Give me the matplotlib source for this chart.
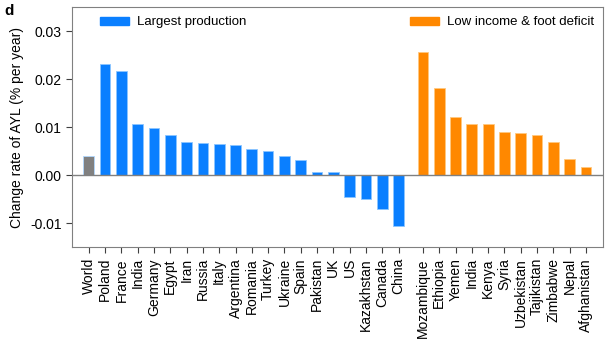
import numpy as np
import matplotlib.pyplot as plt
from matplotlib.patches import Patch

plt.rcParams['font.family'] = ['Liberation Sans', 'DejaVu Sans']

# data
world = 0.0040

prod_names = ['Poland', 'France', 'India', 'Germany', 'Egypt', 'Iran', 'Russia',
              'Italy', 'Argentina', 'Romania', 'Turkey', 'Ukraine', 'Spain',
              'Pakistan', 'UK', 'US', 'Kazakhstan', 'Canada', 'China']
prod_vals = [0.0231, 0.0217, 0.0106, 0.0098, 0.0084, 0.0069, 0.0067,
             0.0064, 0.0062, 0.0055, 0.0050, 0.0039, 0.0031,
             0.0006, 0.0006, -0.0045, -0.0049, -0.0071, -0.0106]

low_names = ['Mozambique', 'Ethiopia', 'Yemen', 'India', 'Kenya', 'Syria',
             'Uzbekistan', 'Tajikistan', 'Zimbabwe', 'Nepal', 'Afghanistan']
low_vals = [0.0256, 0.0181, 0.0120, 0.0106, 0.0106, 0.0089,
            0.0087, 0.0083, 0.0069, 0.0034, 0.0016]

c_grey = '#808080'
c_blue = '#0a7fff'
c_orange = '#ff8800'

x_prod = np.arange(1, len(prod_names) + 1)
x_low = np.arange(len(low_names)) + len(prod_names) + 1.5

fig = plt.figure(figsize=(6.09, 3.40), dpi=100)
ax = fig.add_axes([0.118, 0.2735, 0.872, 0.7055])

w = 0.66
ax.bar(0, world, width=w, color=c_grey, edgecolor='#b0d8ff', linewidth=0.6)
ax.bar(x_prod, prod_vals, width=w, color=c_blue, edgecolor='#8cc6ff', linewidth=0.6)
ax.bar(x_low, low_vals, width=w, color=c_orange, edgecolor='#ffc880', linewidth=0.6)

ax.axhline(0, color=c_grey, linewidth=1)

ax.set_xlim(-1.04, x_low[-1] + 1.04)
ax.set_ylim(-0.015, 0.035)
ax.set_yticks([-0.01, 0.0, 0.01, 0.02, 0.03])
ax.set_yticklabels(['-0.01', '0.00', '0.01', '0.02', '0.03'])

xt = np.concatenate([[0], x_prod, x_low])
ax.set_xticks(xt)
ax.set_xticklabels(['World'] + prod_names + low_names, rotation=90)

for s in ax.spines.values():
    s.set_color(c_grey)
ax.tick_params(axis='both', colors='#404040', labelsize=10, length=4, width=0.8,
               labelcolor='black')
ax.tick_params(axis='x', pad=4)

ax.set_ylabel('Change rate of AYL (% per year)', fontsize=10)

leg1 = ax.legend(handles=[Patch(color=c_blue, label='Largest production')],
                 loc='upper left', bbox_to_anchor=(0.036, 1.0), frameon=False,
                 fontsize=9.5, handlelength=2.2, handleheight=0.6,
                 handletextpad=0.55, borderaxespad=0.3)
ax.add_artist(leg1)
ax.legend(handles=[Patch(color=c_orange, label='Low income & foot deficit')],
          loc='upper right', bbox_to_anchor=(1.0, 1.0), frameon=False,
          fontsize=9.5, handlelength=2.2, handleheight=0.6,
          handletextpad=0.55, borderaxespad=0.3)

fig.text(0.008, 0.955, 'd', fontsize=11, fontweight='bold')

fig.savefig('out.png', dpi=100)
